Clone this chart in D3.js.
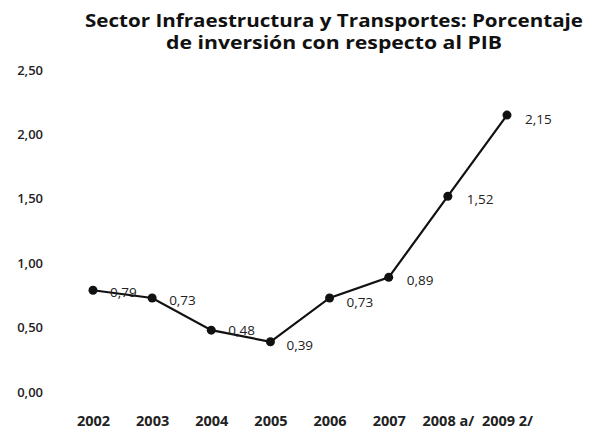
<!DOCTYPE html>
<html><head><meta charset="utf-8">
<script src="https://cdn.jsdelivr.net/npm/d3@7"></script>
<style>body{margin:0;background:#fff}svg{display:block}</style>
</head><body><svg id="c" width="600" height="431"></svg>
<script>
const categories = ["2002","2003","2004","2005","2006","2007","2008 a/","2009 2/"];
const values = [0.79,0.73,0.48,0.39,0.73,0.89,1.52,2.15];
const yTicks = [0,0.5,1,1.5,2,2.5];
const titleLines = ["Sector Infraestructura y Transportes: Porcentaje","de inversión con respecto al PIB"];

const svg = d3.select("#c");
const loc = d3.formatLocale({decimal:",",thousands:".",grouping:[3],currency:["",""]});
const f2 = loc.format(".2f");
const x = d3.scalePoint().domain(categories).range([93,507]);
const y = d3.scaleLinear().domain([0,2.5]).range([392,70]);
const font = "'Open Sans', sans-serif";

const titleW = [498, 336];
svg.selectAll("text.title").data(titleLines).join("text")
  .attr("x",334).attr("y",(d,i)=>27+i*22).attr("text-anchor","middle")
  .attr("font-family",font).attr("font-weight","bold").attr("font-size",18)
  .attr("textLength",(d,i)=>titleW[i]).attr("lengthAdjust","spacingAndGlyphs")
  .attr("fill","#111").text(d=>d);

const ya = svg.append("g").attr("transform","translate(43,0)")
  .call(d3.axisLeft(y).tickValues(yTicks).tickFormat(f2).tickSize(0).tickPadding(0));
ya.select(".domain").remove();
ya.selectAll("text").attr("font-family",font).attr("font-weight",600).attr("font-size",13).attr("fill","#222");

const xa = svg.append("g").attr("transform","translate(0,416)")
  .call(d3.axisBottom(x).tickSize(0).tickPadding(0));
xa.select(".domain").remove();
xa.selectAll("text").attr("font-family",font).attr("font-weight","bold").attr("font-size",14.5).attr("fill","#222");

const line = d3.line().x((d,i)=>x(categories[i])).y(d=>y(d));
svg.append("path").datum(values).attr("d",line).attr("fill","none")
  .attr("stroke","#111").attr("stroke-width",2.2);
svg.selectAll("circle.pt").data(values).join("circle")
  .attr("cx",(d,i)=>x(categories[i])).attr("cy",d=>y(d)).attr("r",4.5).attr("fill","#111");

const offs = [[17,7],[17,7],[17,5],[16,8],[17,9],[18,8],[19,8],[18,9]];
svg.selectAll("text.lab").data(values).join("text")
  .attr("x",(d,i)=>x(categories[i])+offs[i][0]).attr("y",(d,i)=>y(d)+offs[i][1])
  .attr("font-family",font).attr("font-size",13.5).attr("fill","#222").text(d=>f2(d));
</script></body></html>
